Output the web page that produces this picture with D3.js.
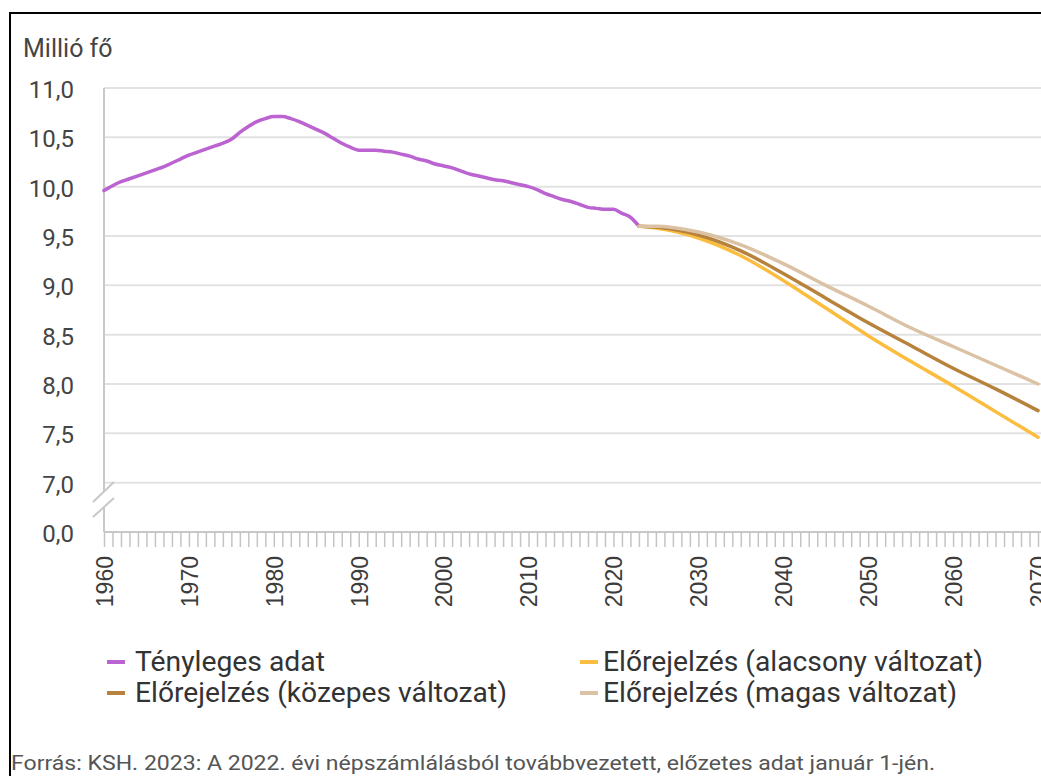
<!DOCTYPE html>
<html>
<head>
<meta charset="utf-8">
<script src="https://cdn.jsdelivr.net/npm/d3@7"></script>
<style>
  body { margin: 0; background: #fff; }
  svg { display: block; font-family: Roboto, sans-serif; }
</style>
</head>
<body>
<svg id="chart" width="1041" height="776"></svg>
<script>
// Tényleges adat, 1960-2023 (millió fő)
const actualYears = d3.range(1960, 2024);
const actualValues = [
  9.96, 10.01, 10.05, 10.08, 10.11, 10.14, 10.17, 10.20, 10.24, 10.28,
  10.32, 10.35, 10.38, 10.41, 10.44, 10.48, 10.55, 10.61, 10.66, 10.69,
  10.71, 10.71, 10.69, 10.66, 10.62, 10.58, 10.54, 10.49, 10.44, 10.40,
  10.37, 10.37, 10.37, 10.36, 10.35, 10.33, 10.31, 10.28, 10.26, 10.23,
  10.21, 10.19, 10.16, 10.13, 10.11, 10.09, 10.07, 10.06, 10.04, 10.02,
  10.00, 9.97, 9.93, 9.90, 9.87, 9.85, 9.82, 9.79, 9.78, 9.77,
  9.77, 9.73, 9.69, 9.60
];

// Előrejelzések
const projYears = [2023, 2025, 2030, 2035, 2040, 2045, 2050, 2055, 2060, 2065, 2070];
const lowValues  = [9.60, 9.58, 9.48, 9.30, 9.05, 8.77, 8.49, 8.23, 7.98, 7.72, 7.46];
const midValues  = [9.60, 9.59, 9.51, 9.35, 9.12, 8.87, 8.62, 8.39, 8.16, 7.95, 7.73];
const highValues = [9.60, 9.60, 9.54, 9.41, 9.22, 9.00, 8.79, 8.57, 8.38, 8.19, 8.00];

const yTicks = [6.5, 7.0, 7.5, 8.0, 8.5, 9.0, 9.5, 10.0, 10.5, 11.0];
const yTickLabels = ["0,0", "7,0", "7,5", "8,0", "8,5", "9,0", "9,5", "10,0", "10,5", "11,0"];

const series = [
  { name: "Tényleges adat", years: actualYears, values: actualValues, color: "#bb63d1" },
  { name: "Előrejelzés (alacsony változat)", years: projYears, values: lowValues, color: "#fbbd3f" },
  { name: "Előrejelzés (közepes változat)", years: projYears, values: midValues, color: "#b7823c" },
  { name: "Előrejelzés (magas változat)", years: projYears, values: highValues, color: "#dcc2a4" }
];

const svg = d3.select("#chart");

const x = d3.scaleLinear().domain([1960, 2070]).range([104, 1038]);
const y = d3.scaleLinear().domain([6.5, 11]).range([532, 88]);

// frame
svg.append("path")
  .attr("d", "M10,776 V13 H1041")
  .attr("fill", "none")
  .attr("stroke", "#000")
  .attr("stroke-width", 2);

// unit label
svg.append("text")
  .attr("x", 23).attr("y", 57)
  .attr("font-size", 25)
  .attr("fill", "#444")
  .text("Millió fő");

// gridlines
svg.append("g")
  .selectAll("line")
  .data(yTicks.filter(d => d >= 7))
  .join("line")
  .attr("x1", 104).attr("x2", 1041)
  .attr("y1", d => y(d)).attr("y2", d => y(d))
  .attr("stroke", "#e2e2e2")
  .attr("stroke-width", 2);

// y axis labels
const yAxis = d3.axisLeft(y)
  .tickValues(yTicks)
  .tickSize(0)
  .tickPadding(30)
  .tickFormat((d, i) => yTickLabels[i]);

const gy = svg.append("g").attr("transform", "translate(104,0)").call(yAxis);
gy.select(".domain").remove();
gy.selectAll("text")
  .attr("font-family", "Roboto, sans-serif")
  .attr("font-size", 24)
  .attr("fill", "#444")
  .attr("dy", "0.4em");

// y axis line with break
svg.append("path")
  .attr("d", `M104,${y(11)} V492 M104,507 V${y(6.5)}`)
  .attr("stroke", "#c8c8c8")
  .attr("stroke-width", 2)
  .attr("fill", "none");
svg.append("path")
  .attr("d", "M93,502 L114,482 M93,517 L114,498")
  .attr("stroke", "#c8c8c8")
  .attr("stroke-width", 2)
  .attr("fill", "none");

// x axis
const xAxis = d3.axisBottom(x)
  .tickValues(d3.range(1960, 2071))
  .tickSize(15)
  .tickPadding(6)
  .tickFormat(d => d % 10 === 0 ? d : "");

const gx = svg.append("g").attr("transform", `translate(0,${y(6.5)})`).call(xAxis);
gx.select(".domain")
  .attr("d", `M104,0 H1041`)
  .attr("stroke", "#c8c8c8")
  .attr("stroke-width", 2);
gx.selectAll(".tick line")
  .attr("stroke", "#c4c4c4")
  .attr("stroke-width", 1.5);
gx.selectAll("text")
  .attr("font-family", "'Liberation Sans', Arial, sans-serif")
  .attr("font-size", 23)
  .attr("fill", "#3c3c3c")
  .attr("text-anchor", "end")
  .attr("transform", "rotate(-90)")
  .attr("x", -24)
  .attr("y", 0)
  .attr("dy", "0.36em");

// lines
const line = d3.line()
  .x(d => x(d[0]))
  .y(d => y(d[1]))
  .curve(d3.curveMonotoneX);

svg.append("g")
  .selectAll("path")
  .data(series)
  .join("path")
  .attr("d", s => line(s.years.map((yr, i) => [yr, s.values[i]])))
  .attr("fill", "none")
  .attr("stroke", s => s.color)
  .attr("stroke-width", 3.5)
  .attr("stroke-linejoin", "round")
  .attr("stroke-linecap", "round");

// legend
const legendPos = [
  { x: 107, y: 662, w: 190 },
  { x: 580, y: 662, w: 380 },
  { x: 107, y: 693, w: 372 },
  { x: 580, y: 693, w: 354 }
];

const legend = svg.append("g")
  .selectAll("g")
  .data(series)
  .join("g")
  .attr("transform", (s, i) => `translate(${legendPos[i].x},${legendPos[i].y})`);

legend.append("line")
  .attr("x1", 0).attr("x2", 18)
  .attr("stroke", s => s.color)
  .attr("stroke-width", 4);

legend.append("text")
  .attr("x", (s, i) => i % 2 === 0 ? 28 : 23)
  .attr("dy", "0.35em")
  .attr("font-size", 27)
  .attr("fill", "#333")
  .attr("textLength", (s, i) => legendPos[i].w)
  .attr("lengthAdjust", "spacingAndGlyphs")
  .text(s => s.name);

// source
svg.append("text")
  .attr("x", 11).attr("y", 770)
  .attr("font-size", 20)
  .attr("fill", "#555")
  .attr("textLength", 924)
  .attr("lengthAdjust", "spacingAndGlyphs")
  .text("Forrás: KSH. 2023: A 2022. évi népszámlálásból továbbvezetett, előzetes adat január 1-jén.");
</script>
</body>
</html>
